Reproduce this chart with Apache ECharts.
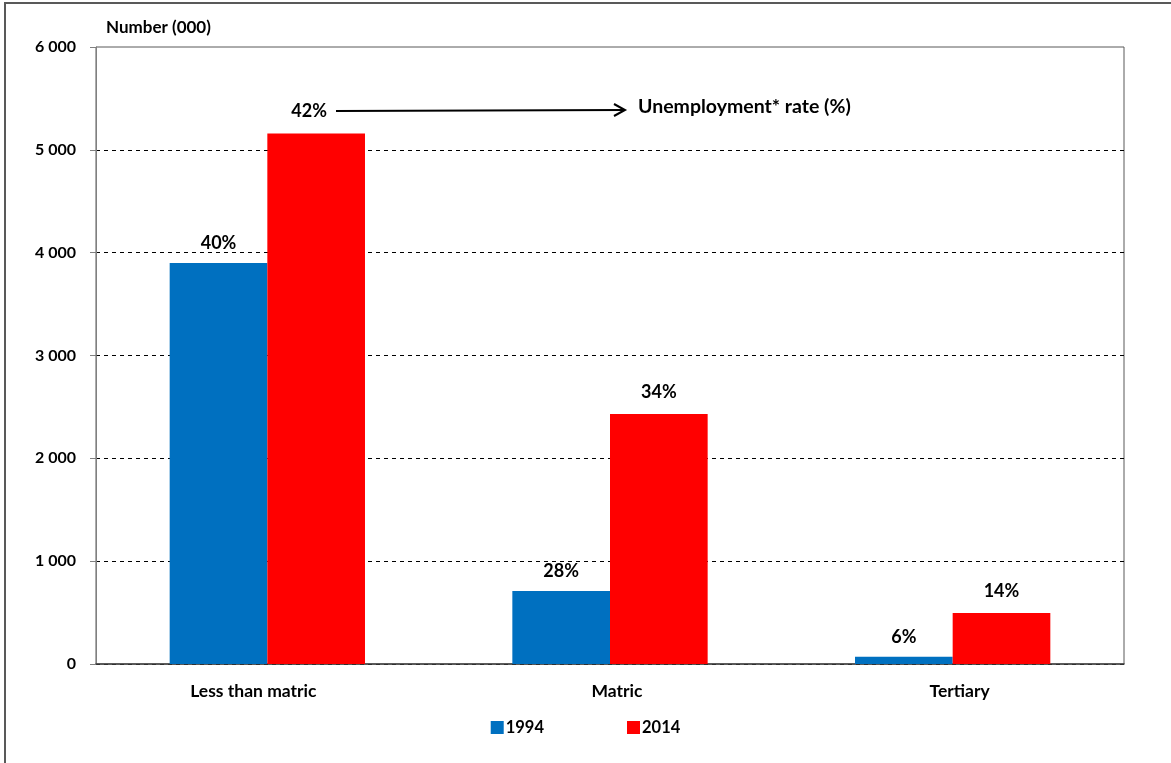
<!DOCTYPE html>
<html><head><meta charset="utf-8">
<script src="https://cdn.jsdelivr.net/npm/echarts@6/dist/echarts.min.js"></script>
<style>html,body{margin:0;padding:0;background:#fff}#c{width:1171px;height:763px}</style>
</head><body><div id="c"></div>
<script>
const categories = ['Less than matric', 'Matric', 'Tertiary'];
const values1994 = [3900, 710, 70];
const values2014 = [5160, 2430, 495];
const rates1994 = ['40%', '28%', '6%'];
const rates2014 = ['42%', '34%', '14%'];
const yTicks = [0, 1000, 2000, 3000, 4000, 5000, 6000];

const FONT = 'Lato, "Open Sans", sans-serif';
const chart = echarts.init(document.getElementById('c'));
const fmt = v => v >= 1000 ? Math.floor(v / 1000) + ' ' + String(v % 1000).padStart(3, '0') : String(v);
const catStyle = ['l', 'r', 'r'];
const labelBase = { fontFamily: FONT, fontWeight: 'bold', fontSize: 17.5, color: '#000' };

chart.setOption({
  animation: false,
  textStyle: { fontFamily: FONT },
  grid: { left: 96, right: 47, top: 47, bottom: 99, show: true, borderColor: '#595959', borderWidth: 1 },
  legend: {
    bottom: 22, left: 'center', itemWidth: 13, itemHeight: 13, itemGap: 83,
    icon: 'rect',
    textStyle: { fontFamily: FONT, fontWeight: 'bold', fontSize: 16.5, color: '#000', padding: [0, 0, 0, -3] },
    data: ['1994', '2014']
  },
  xAxis: {
    type: 'category', data: categories,
    axisLine: { lineStyle: { color: '#404040', width: 1.5 } },
    axisTick: { show: false },
    axisLabel: {
      ...labelBase, margin: 18,
      formatter: (v, i) => '{' + catStyle[i] + '|' + v + '}',
      rich: {
        l: { ...labelBase, padding: [0, 28, 0, 0] },
        r: { ...labelBase, padding: [0, 0, 0, 14] }
      }
    }
  },
  yAxis: {
    type: 'value', min: 0, max: yTicks[yTicks.length - 1], interval: yTicks[1] - yTicks[0],
    name: 'Number (000)', nameLocation: 'end', nameGap: 11,
    nameTextStyle: { fontFamily: FONT, fontWeight: 'bold', fontSize: 17, color: '#000', align: 'left', padding: [0, 0, 0, 10] },
    axisLine: { show: true, lineStyle: { color: '#808080' } },
    axisTick: { show: true, length: 6, lineStyle: { color: '#808080' } },
    axisLabel: { fontFamily: FONT, fontWeight: 'bold', fontSize: 16, color: '#000', margin: 20, formatter: fmt },
    splitLine: { show: true, showMaxLine: false, lineStyle: { color: '#000', type: [4, 4], width: 1 } }
  },
  series: [
    {
      name: '1994', type: 'bar', data: values1994, barCategoryGap: '43%', barGap: '0%',
      itemStyle: { color: '#0070C0' },
      label: { show: true, position: 'top', distance: 11, fontFamily: FONT, fontWeight: 'bold', fontSize: 18, color: '#000',
        formatter: p => rates1994[p.dataIndex] }
    },
    {
      name: '2014', type: 'bar', data: values2014,
      itemStyle: { color: '#FF0000' },
      label: { show: true, position: 'top', distance: 13, fontFamily: FONT, fontWeight: 'bold', fontSize: 18, color: '#000',
        formatter: p => rates2014[p.dataIndex] },
      labelLayout: p => p.dataIndex === 0 ? { dx: -7 } : {}
    }
  ],
  graphic: [
    { type: 'rect', shape: { x: 5, y: 3, width: 1200, height: 800 }, style: { fill: 'none', stroke: '#595959', lineWidth: 2 }, silent: true, z: -1 },
    { type: 'line', shape: { x1: 336, y1: 111, x2: 624, y2: 110 }, style: { stroke: '#000', lineWidth: 2 } },
    { type: 'polyline', shape: { points: [[614, 104], [625, 110], [614, 116]] }, style: { stroke: '#000', lineWidth: 2, fill: 'none' } },
    { type: 'text', x: 638, y: 97, style: { text: 'Unemployment* rate (%)', fontFamily: FONT, fontWeight: 'bold', fontSize: 19.5, fill: '#000' } }
  ]
});
</script></body></html>
